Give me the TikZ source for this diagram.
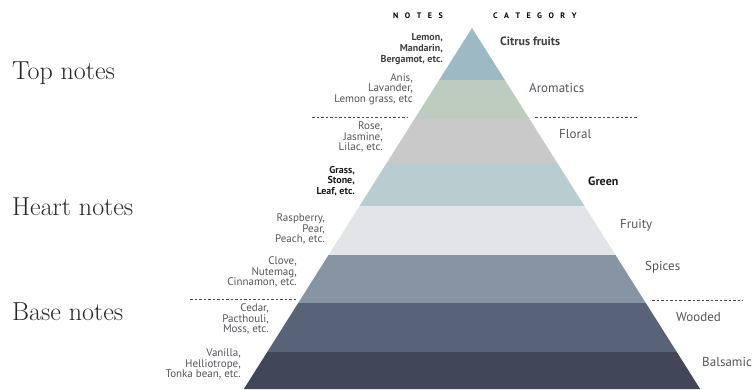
\documentclass[tikz,border=0pt]{standalone}
\usepackage{fontspec}
\newfontfamily\lblfont{PT Sans}
\usetikzlibrary{calc}
\definecolor{citrus}{RGB}{156,185,196}
\definecolor{aroma}{RGB}{190,204,192}
\definecolor{floral}{RGB}{201,201,201}
\definecolor{green}{RGB}{185,205,208}
\definecolor{fruity}{RGB}{227,228,232}
\definecolor{spices}{RGB}{135,148,164}
\definecolor{wooded}{RGB}{89,99,119}
\definecolor{balsam}{RGB}{66,70,89}
\definecolor{txtgray}{RGB}{85,85,92}
% one band of the pyramid: top y, bottom y, colour
\def\band(#1:#2:#3){\fill[#3] ({472-0.632*(#1-28)},#1) -- ({472+0.632*(#1-28)},#1) -- ({472+0.632*(#2-28)},#2) -- ({472-0.632*(#2-28)},#2) -- cycle;}

\begin{document}
\begin{tikzpicture}[x=1pt,y=-1pt,
	notes/.style={font=\lblfont\fontsize{11}{10.6}\selectfont, align=right, anchor=east, text=txtgray, inner sep=0pt},
	categ/.style={font=\lblfont\fontsize{13}{14}\selectfont, anchor=west, text=txtgray, inner sep=0pt},
	level/.style={font=\fontsize{26}{28}\selectfont, anchor=base west, text=black!85, inner sep=0pt},
	head/.style={font=\lblfont\bfseries\fontsize{8}{9}\selectfont, inner sep=0pt},
	sep/.style={dashed, dash pattern=on 2.5pt off 2pt, line width=0.6pt, color=black!70}]
			%%%%% START %%%%%
			\useasboundingbox (0,0) rectangle (754,389);
			
			\band(28:80:citrus)
			\band(80:119:aroma)
			\band(119:163:floral)
			\band(163:206:green)
			\band(206:255:fruity)
			\band(255:303:spices)
			\band(303:352:wooded)
			\band(352:389:balsam)
			
			\node[head, anchor=west] (hnotes) at (393, 16) {N\hspace{6.5pt}O\hspace{6.5pt}T\hspace{6.5pt}E\hspace{6.5pt}S};
			\node[head, anchor=west] (hcateg) at (493, 16) {C\hspace{6.5pt}A\hspace{6.5pt}T\hspace{6.5pt}E\hspace{6.5pt}G\hspace{6.5pt}O\hspace{6.5pt}R\hspace{6.5pt}Y};
			
			\node[level] (top) at (12, 79) {Top notes};
			\node[level] (heart) at (12, 215) {Heart notes};
			\node[level] (base) at (12, 320) {Base notes};
			
			\node[notes, text=black!75, font=\lblfont\bfseries\fontsize{10}{10.6}\selectfont] (lemon) at (443, 49) {Lemon,\\Mandarin,\\Bergamot, etc.};
			\node[notes] (anis) at (413, 89) {Anis,\\Lavander,\\Lemon grass, etc};
			\node[notes] (rose) at (383, 137) {Rose,\\Jasmine,\\Lilac, etc.};
			\node[notes, text=black!90, font=\lblfont\bfseries\fontsize{10}{10.6}\selectfont] (grass) at (355, 181) {Grass,\\Stone,\\Leaf, etc.};
			\node[notes] (rasp) at (325, 229) {Raspberry,\\Pear,\\Peach, etc.};
			\node[notes] (clove) at (297, 272) {Clove,\\Nutemag,\\Cinnamon, etc.};
			\node[notes] (cedar) at (269, 319) {Cedar,\\Pacthouli,\\Moss, etc.};
			\node[notes] (vanilla) at (241, 364) {Vanilla,\\Helliotrope,\\Tonka bean, etc.};
			
			\node[categ, text=black!75, font=\lblfont\bfseries\fontsize{12}{14}\selectfont] (citrusl) at (500, 41) {Citrus fruits};
			\node[categ] (aromal) at (529, 88) {Aromatics};
			\node[categ] (florall) at (559, 134) {Floral};
			\node[categ, text=black!90, font=\lblfont\bfseries\fontsize{12}{14}\selectfont] (greenl) at (588, 181) {Green};
			\node[categ] (fruityl) at (620, 225) {Fruity};
			\node[categ] (spicesl) at (645, 267) {Spices};
			\node[categ] (woodedl) at (676, 317) {Wooded};
			\node[categ] (balsaml) at (702, 362) {Balsamic};
			
			\coordinate (s1a) at (312, 117);
			\coordinate (s1b) at (408, 117);
			\coordinate (s2a) at (535, 117);
			\coordinate (s2b) at (637, 117);
			\coordinate (s3a) at (190, 299);
			\coordinate (s3b) at (297, 299);
			\coordinate (s4a) at (652, 300);
			\coordinate (s4b) at (743, 300);
			\draw[sep] (s1a) -- (s1b);
			\draw[sep] (s2a) -- (s2b);
			\draw[sep] (s3a) -- (s3b);
			\draw[sep] (s4a) -- (s4b);
			
			%%%%% END %%%%%
\end{tikzpicture}
\end{document}
